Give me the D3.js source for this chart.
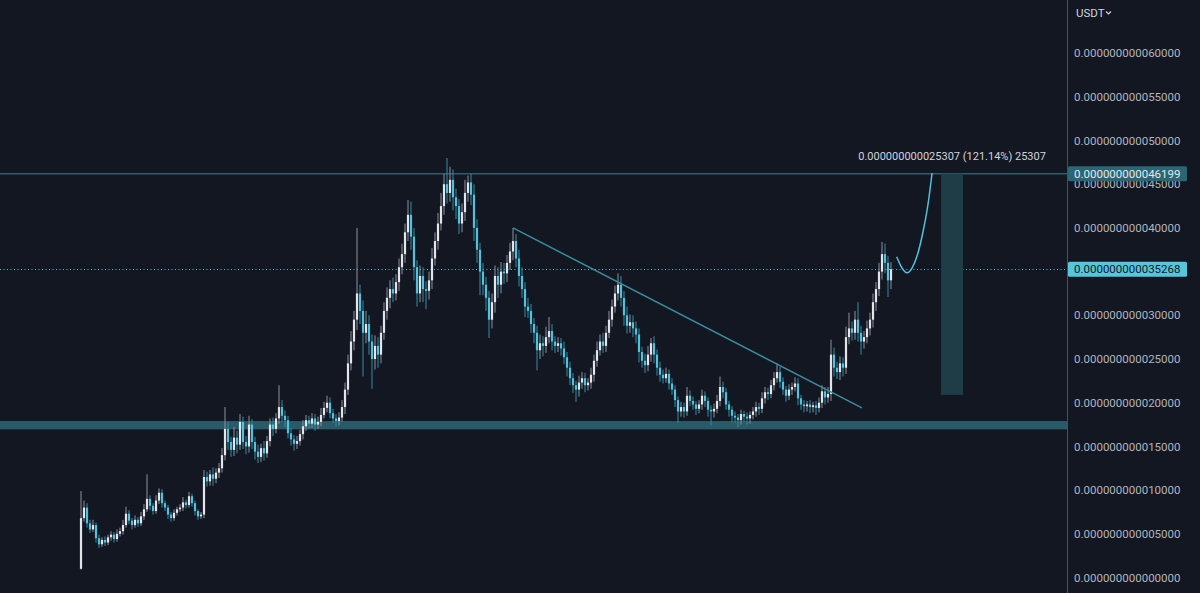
<!DOCTYPE html>
<html><head><meta charset="utf-8">
<script src="https://cdn.jsdelivr.net/npm/d3@7"></script>
<style>html,body{margin:0;padding:0;background:#131722;overflow:hidden}</style>
</head><body><svg id="c" width="1200" height="593"></svg>
<script>
// prices in units of 1e-12 USDT
const firstOpen = 1.0;
const closes = [
6.8,8.0,6.2,5.5,6.0,4.5,3.8,4.3,4.0,4.6, 4.9,4.4,5.0,5.3,6.0,7.3,6.5,6.0,6.6,6.2, 7.0,7.8,9.0,8.2,7.6,8.8,9.7,8.5,8.0,7.2, 6.8,7.4,7.8,8.0,8.6,8.3,9.3,8.5,7.6,7.0, 7.2,11.5,
11.0,11.8,11.3,12.0,12.5,14.0,17.0,15.5,14.6,16.0, 15.2,17.8,15.5,15.0,17.5,15.5,14.4,13.8,14.8,14.2, 15.6,17.5,17.0,18.2,19.5,18.5,18.0,16.5,15.8,15.3, 15.6,16.4,17.3,18.0,17.6,18.2,17.5,17.8,18.6,19.4, 20.0,18.8,18.2,17.9,18.3,19.5,
21.5,24.5,27.0,29.5,32.5,30.5,28.0,29.0,27.0,25.0, 26.5,25.5,28.0,30.5,32.0,33.0,32.5,33.8,35.5,37.0, 39.5,41.5,39.0,35.5,32.5,34.5,33.0,32.8,34.0,36.5, 38.5,40.5,42.5,45.0,44.0,45.5,43.5,42.5,40.5,41.8, 44.0,45.2,43.8,40.0,37.5,35.0,33.5,32.0,29.5,31.5, 34.5,33.5,35.0,34.8,36.0,37.3,38.5,
36.5,34.5,33.0,31.0,30.5,29.0,28.0,26.0,26.8,26.5, 27.5,28.2,27.0,26.5,26.8,26.2,25.2,24.0,22.8,22.0, 21.5,22.3,22.8,22.0,22.3,23.2,24.8,26.0,27.0,26.5, 28.0,29.5,31.0,32.5,33.5,32.0,30.0,28.8,29.2,28.5, 27.8,25.8,24.8,24.3,25.5,26.8,25.5,24.0,23.2,
22.8,23.3,22.2,21.5,20.3,19.0,19.5,19.0,20.8,20.2, 19.8,19.3,19.8,20.8,20.2,19.2,19.0,19.3,20.2,21.8, 21.2,19.8,19.2,18.5,18.3,18.0,18.7,18.4,18.2,18.6, 19.0,19.5,19.3,20.5,21.2,21.0,22.0,22.8,23.5,22.4, 21.5,20.8,21.5,21.8,22.2,20.5,19.8,19.6,19.8,19.5, 19.7,19.4,20.0,21.3,20.6,21.0,
25.5,24.0,23.5,24.5,24.0,27.5,28.5,28.0,29.5,28.0, 27.0,27.5,28.5,29.5,31.5,33.0,35.0,37.0,36.0,34.0, 35.268
];
const wickUp = [
3.1,0.8,0.5,0.4,0.6,0.3,0.4,0.3,0.4,0.3, 0.4,0.3,0.5,0.4,0.6,0.8,0.4,0.3,0.5,0.3, 0.5,0.6,2.8,0.4,0.3,0.6,0.5,0.4,0.3,0.3, 0.3,0.4,0.3,0.4,0.6,0.3,0.5,0.3,0.3,0.2, 0.3,0.8,
0.6,0.5,0.8,0.5,0.6,0.8,2.5,0.8,0.6,1.2, 0.8,0.9,0.6,0.7,1.0,0.6,0.6,0.8,0.5,0.8, 0.6,0.7,0.8,0.6,2.5,0.8,0.6,0.5,0.6,0.5, 0.6,0.5,0.7,0.6,0.5,0.6,0.5,0.6,0.8,0.7, 0.8,0.6,0.5,0.5,0.6,0.8,
0.8,1.0,1.2,1.0,7.5,1.0,1.2,1.5,1.0,0.8, 1.2,1.0,0.8,1.0,1.2,1.0,1.3,0.9,1.0,1.2, 1.0,1.7,1.5,1.0,0.8,1.2,1.0,0.9,1.0,1.2, 1.0,1.2,1.5,1.2,3.0,1.5,1.2,1.0,0.8,1.0, 1.5,0.8,1.0,1.2,1.0,0.8,1.0,0.9,0.8,1.0, 1.2,1.0,1.1,1.0,0.9,1.0,1.5,
0.8,1.0,1.0,0.8,1.0,0.8,0.7,0.8,1.0,0.8, 1.2,1.6,0.8,0.6,0.7,0.6,0.8,0.6,0.7,0.6, 0.5,0.8,0.7,0.6,0.5,0.8,0.7,1.0,0.8,1.0, 0.8,1.0,0.8,0.9,1.3,1.0,0.8,1.0,0.9,0.8, 0.8,0.7,0.6,0.8,1.0,0.6,0.8,0.6,0.7,
0.6,0.7,0.5,0.6,0.5,0.4,0.6,0.5,1.0,0.6, 0.5,0.4,0.5,0.7,0.5,0.4,0.5,0.6,0.7,1.2, 0.6,0.5,0.4,0.4,0.5,0.4,0.5,0.4,0.5,0.4, 0.5,0.6,0.5,0.7,0.6,0.5,0.6,0.7,1.0,0.6, 0.5,0.4,0.6,0.5,0.7,0.6,0.4,0.5,0.4,0.5, 0.4,0.5,0.6,0.7,0.5,0.8,
1.7,0.8,0.7,0.8,0.7,1.2,1.8,0.8,1.0,2.0, 0.8,0.7,0.9,0.8,1.0,0.8,1.0,1.4,1.2,0.8, 0.8
];
const wickDn = [
0.1,0.4,0.5,0.4,0.3,0.5,0.4,0.3,0.4,0.3, 0.4,0.4,0.3,0.3,0.4,0.3,0.4,0.5,0.3,0.4, 0.3,0.4,0.3,0.5,0.4,0.3,0.4,0.5,0.4,0.5, 0.4,0.3,0.3,0.3,0.4,0.4,0.3,0.4,0.5,0.4, 0.3,0.4,
0.6,0.5,0.8,0.5,0.6,0.5,0.6,0.9,0.8,0.7, 1.0,0.6,0.8,0.9,0.7,0.8,0.9,0.7,0.6,0.8, 0.5,0.6,0.8,0.5,0.6,0.7,0.8,0.6,0.7,0.8, 0.6,0.5,0.6,0.5,0.6,0.5,0.7,0.5,0.5,0.4, 0.5,0.6,0.5,0.6,0.5,0.5,
0.8,0.6,0.8,1.0,1.2,1.5,5.0,1.2,1.5,3.4, 1.2,1.5,1.0,0.8,1.0,1.2,1.0,0.8,1.0,0.8, 1.0,1.0,1.5,1.5,1.5,1.0,1.5,2.1,1.0,1.0, 0.8,1.0,0.8,1.0,1.2,1.0,1.5,1.5,1.2,1.0, 1.0,1.0,1.2,1.5,1.5,2.7,1.2,1.5,2.1,1.0, 1.2,1.5,1.0,1.2,1.0,0.8,1.0,
1.0,1.2,1.0,1.2,0.8,1.0,1.2,2.3,1.0,1.2, 0.8,0.7,1.0,0.8,0.7,0.8,0.8,1.0,0.8,0.9, 1.4,0.8,0.7,0.8,0.6,0.7,0.8,0.7,0.6,0.8, 0.7,0.6,0.8,0.7,0.8,1.0,1.2,0.9,0.8,1.0, 1.0,1.2,0.8,0.9,0.7,0.8,1.0,0.9,0.8,
0.6,0.5,0.7,0.6,0.8,1.3,0.6,0.7,0.5,0.6, 0.6,0.7,0.5,0.6,0.7,0.8,1.6,0.7,0.5,0.6, 0.7,0.6,0.8,0.7,0.6,0.8,0.5,0.6,0.7,0.6, 0.5,0.6,0.7,0.5,0.6,0.7,0.5,0.6,0.5,0.7, 0.6,0.7,0.5,0.6,0.5,0.8,0.6,0.7,0.6,0.7, 0.6,0.8,0.5,0.6,0.8,0.6,
0.8,1.0,0.8,0.9,1.0,0.7,0.8,0.9,0.8,1.0, 1.5,0.8,0.7,0.8,0.9,1.0,0.8,0.9,1.2,1.9, 1.0
];
const yTicks = [0,5,10,15,20,25,30,35,40,45,50,55,60];
const resistance = 46.199;
const lastPrice = 35.268;
const supportBand = [16.95, 17.9];
const trendLine = [[144, 40.0],[260.3, 19.4]];
const projection = [[271.9,36.7],[273.3,35.64],[275.4,34.87],[277.0,35.41],[278.6,36.7],[280.8,39.76],[282.3,42.62],[283.7,46.28]];
const measure = {i0: 286.7, i1: 294, from: 20.892, to: 46.199};
const measureText = "0.000000000025307 (121.14%) 25307";
const currency = "USDT";

const fmt = v => (v*1e-12).toFixed(15);

const W = 1200, H = 593, plotW = 1067;
const svg = d3.select("#c");
svg.append("rect").attr("width",W).attr("height",H).attr("fill","#131722");

const x = d3.scaleLinear().domain([0, 270]).range([81, 891]);
const y = d3.scaleLinear().domain([0, 60]).range([577.5, 53.1]);

const candles = closes.map((c,i)=>{
  const o = i ? closes[i-1] : firstOpen;
  return {i, o, c, h: Math.max(o,c)+wickUp[i], l: Math.min(o,c)-wickDn[i]};
});

const plot = svg.append("g");
// support band
plot.append("rect").attr("x",0).attr("width",plotW)
  .attr("y", y(supportBand[1])).attr("height", y(supportBand[0])-y(supportBand[1]))
  .attr("fill","#285b67");
// resistance line
plot.append("line").attr("x1",0).attr("x2",plotW).attr("y1",y(resistance)).attr("y2",y(resistance))
  .attr("stroke","#2c5f6a").attr("stroke-width",1.5);
// last price dotted
plot.append("line").attr("x1",0).attr("x2",plotW).attr("y1",Math.round(y(lastPrice))+0.5).attr("y2",Math.round(y(lastPrice))+0.5)
  .attr("stroke","#52bcd3").attr("stroke-width",1).attr("stroke-dasharray","1,2.5");

// candles
const cg = plot.append("g");
cg.selectAll("rect.w").data(candles).join("rect").attr("class","w")
  .attr("x", d=>x(d.i)-0.5).attr("width",1)
  .attr("y", d=>y(d.h)).attr("height", d=>Math.max(1,y(d.l)-y(d.h)))
  .attr("fill", d=> d.c>=d.o ? "#8e919a" : "#3390a5");
cg.selectAll("rect.b").data(candles).join("rect").attr("class","b")
  .attr("x", d=>x(d.i)-1.1).attr("width",2.2)
  .attr("y", d=>y(Math.max(d.o,d.c))).attr("height", d=>Math.max(1,Math.abs(y(d.o)-y(d.c))))
  .attr("fill", d=> d.c>=d.o ? "#e3e5ea" : "#4fc3dc");

// trendline
plot.append("line").attr("x1",x(trendLine[0][0])).attr("y1",y(trendLine[0][1]))
  .attr("x2",x(trendLine[1][0])).attr("y2",y(trendLine[1][1]))
  .attr("stroke","#3a8c9c").attr("stroke-width",1.5);
// projection curve
plot.append("path").datum(projection)
  .attr("d", d3.line().x(d=>x(d[0])).y(d=>y(d[1])).curve(d3.curveMonotoneX))
  .attr("fill","none").attr("stroke","#4fc3dc").attr("stroke-width",1.5);
// measure rect
plot.append("rect").attr("x",x(measure.i0)).attr("width",x(measure.i1)-x(measure.i0))
  .attr("y",y(measure.to)).attr("height",y(measure.from)-y(measure.to))
  .attr("fill","#1e3d46");
plot.append("text").attr("x",(x(measure.i0)+x(measure.i1))/2).attr("y",y(measure.to)-17)
  .attr("text-anchor","middle").attr("dominant-baseline","central")
  .attr("font-family","Roboto, sans-serif").attr("font-size",11).attr("fill","#d1d4dc")
  .text(measureText);

// axis
svg.append("line").attr("x1",plotW+0.5).attr("x2",plotW+0.5).attr("y1",0).attr("y2",H)
  .attr("stroke","#4a4e5a").attr("stroke-width",1);
const ax = svg.append("g").attr("transform",`translate(${plotW},0)`)
  .call(d3.axisRight(y).tickValues(yTicks).tickFormat(fmt).tickSize(0).tickPadding(7));
ax.select(".domain").remove();
ax.selectAll("text").attr("font-family","Roboto, sans-serif").attr("font-size",11.5).attr("fill","#b2b5be");
// tick labels fully hidden under the last-price box are not shown (as in the reference)
ax.selectAll(".tick").filter(d => Math.abs(y(d)-y(lastPrice)) < 8).remove();

svg.append("text").attr("x",1076).attr("y",13).attr("dominant-baseline","central")
  .attr("font-family","Roboto, sans-serif").attr("font-size",11.5).attr("fill","#d1d4dc").text(currency);
svg.append("path").attr("d","M1106,11.5 l2.5,2.5 l2.5,-2.5").attr("fill","none").attr("stroke","#d1d4dc").attr("stroke-width",1.2);

// price labels
function priceLabel(v, bg, fg){
  const g = svg.append("g");
  g.append("rect").attr("x",plotW+1).attr("y",y(v)-7.5).attr("width",119).attr("height",15).attr("rx",1.5).attr("fill",bg);
  g.append("text").attr("x",plotW+7).attr("y",y(v)).attr("dominant-baseline","central")
    .attr("font-family","Roboto, sans-serif").attr("font-size",11.5).attr("fill",fg).text(fmt(v));
}
priceLabel(resistance, "#2b6674", "#e6e8ee");
priceLabel(lastPrice, "#56c6dd", "#131722");
</script></body></html>
